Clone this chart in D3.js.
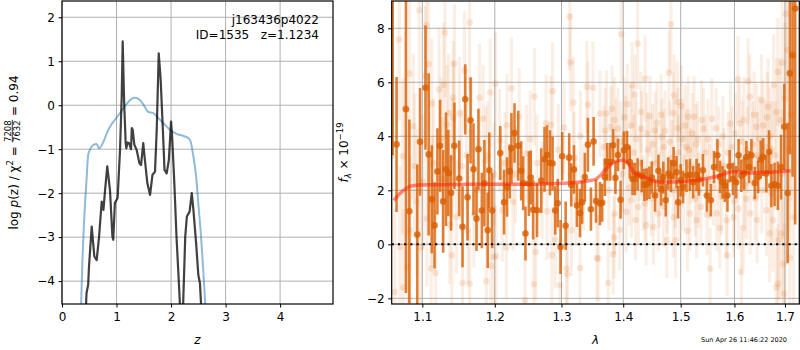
<!DOCTYPE html>
<html><head><meta charset="utf-8">
<script src="https://cdn.jsdelivr.net/npm/d3@7"></script>
<style>
body{margin:0;background:#fff}
svg{font-family:"DejaVu Sans",sans-serif}
text,tspan{white-space:pre}
</style></head>
<body><svg id="c" width="800" height="350"></svg>
<script>
// ---------------- DATA ----------------
const leftXTicks=[0,1,2,3,4];
const leftYTicks=[-4,-3,-2,-1,0,1,2];
const rightXTicks=[1.1,1.2,1.3,1.4,1.5,1.6,1.7];
const rightYTicks=[-2,0,2,4,6,8];

// blue curve: [z, log p]
const pzBlue=[[0.34,-5.0],[0.35,-4.55],[0.373,-3.6],[0.41,-2.53],[0.45,-1.70],[0.48,-1.13],[0.51,-1.02],[0.575,-0.9],[0.636,-0.88],[0.68,-0.98],[0.76,-0.83],[0.82,-0.64],[0.88,-0.49],[0.97,-0.33],[1.064,-0.18],[1.156,-0.02],[1.25,0.12],[1.33,0.17],[1.41,0.14],[1.49,0.02],[1.58,-0.15],[1.675,-0.18],[1.77,-0.3],[1.86,-0.41],[1.98,-0.56],[2.10,-0.65],[2.23,-0.70],[2.32,-0.75],[2.36,-0.83],[2.41,-1.17],[2.46,-1.62],[2.50,-2.23],[2.55,-2.99],[2.59,-3.74],[2.63,-4.6],[2.65,-5.0]];
// black curve: [z, log p]
const pzBlack=[[0.43,-5.0],[0.44,-4.55],[0.45,-4.27],[0.48,-4.08],[0.495,-3.67],[0.545,-2.76],[0.593,-3.44],[0.636,-3.52],[0.68,-2.99],[0.728,-2.19],[0.76,-2.38],[0.79,-1.93],[0.83,-1.39],[0.88,-1.93],[0.925,-2.99],[0.94,-3.06],[0.97,-2.22],[1.02,-2.11],[1.064,-1.02],[1.095,0.2],[1.113,1.45],[1.14,0.05],[1.168,-0.86],[1.18,-0.98],[1.2,-0.85],[1.23,-0.86],[1.266,-1.0],[1.28,-0.52],[1.297,-0.56],[1.327,-0.9],[1.37,-1.02],[1.42,-1.32],[1.45,-1.36],[1.49,-0.86],[1.52,-1.24],[1.565,-1.77],[1.615,-2.04],[1.66,-1.58],[1.706,-1.51],[1.737,-0.56],[1.774,1.18],[1.81,0.57],[1.85,-0.56],[1.88,-1.47],[1.92,-1.55],[1.96,-1.24],[2.0,-0.37],[2.02,-0.71],[2.06,-1.77],[2.10,-2.99],[2.15,-4.2],[2.18,-5.0],[2.21,-5.0],[2.26,-2.99],[2.29,-2.53],[2.34,-2.42],[2.38,-2.0],[2.41,-2.38],[2.46,-3.14],[2.50,-3.86],[2.53,-4.05],[2.57,-5.0]];

// binned spectrum: [lambda, flux, err]
const darkPts=[[1.0615,10.5,7.2],[1.0665,3.70,2.5],[1.0786,5.00,6.8],[1.0830,1.22,3.4],[1.0934,0.36,2.6],[1.0970,3.80,2.0],[1.1042,5.80,2.3],[1.1084,3.33,3.0],[1.1126,1.67,2.0],[1.1163,0.70,1.6],[1.1201,2.70,1.6],[1.1237,3.65,1.7],[1.1279,1.59,1.9],[1.1317,2.78,2.1],[1.1349,2.64,1.6],[1.1386,1.90,1.4],[1.1432,3.65,1.6],[1.1498,2.44,1.4],[1.1544,0.65,1.5],[1.1582,5.37,1.3],[1.1614,1.74,1.6],[1.1656,4.59,1.6],[1.1697,2.78,1.7],[1.1739,0.95,1.2],[1.1767,3.52,1.5],[1.1815,1.25,1.4],[1.1851,2.26,1.6],[1.1898,0.52,1.4],[1.1921,2.74,1.4],[1.1962,1.25,1.4],
[1.2079,3.38,1.0],[1.2134,1.56,1.2],[1.2178,2.12,1.1],[1.2218,2.70,1.0],[1.2242,3.56,1.3],[1.2287,4.12,1.1],[1.2342,3.65,1.3],[1.2386,2.72,1.1],[1.2416,2.26,1.0],[1.2450,0.40,1.0],[1.2501,2.25,1.2],[1.2530,2.47,1.0],[1.2565,1.28,1.1],[1.2624,1.26,1.0],[1.2688,2.36,1.2],[1.2738,3.15,1.2],[1.2777,3.31,1.1],[1.2822,3.02,1.2],[1.2862,2.99,1.0],[1.2902,1.25,0.9],[1.2941,1.52,0.9],[1.2985,-0.10,1.0],[1.3011,3.26,0.9],[1.3065,0.69,0.9],[1.3121,3.21,0.9],[1.3153,2.20,0.8],[1.3196,2.77,0.9],[1.3244,1.44,0.8],[1.3293,1.16,0.9],[1.3326,1.56,0.8],[1.3370,2.49,0.9],[1.3419,3.69,1.0],[1.3468,1.30,0.8],[1.3511,3.81,0.9],[1.3550,1.60,0.8],
[1.3614,1.51,0.8],[1.3651,1.54,0.7],[1.3695,2.49,0.7],[1.3733,3.05,0.7],[1.3782,3.05,0.7],[1.3831,3.67,0.6],[1.3870,2.46,0.6],[1.3912,3.31,0.6],[1.3956,1.65,0.7],[1.4010,3.48,0.7],[1.4063,3.60,0.6],[1.4110,3.05,0.6],[1.4157,2.42,0.6],[1.4197,2.42,0.6],[1.4244,2.59,0.6],[1.4314,2.53,0.6],[1.4360,2.20,0.6],[1.4401,2.22,0.6],[1.4447,2.28,0.6],[1.4489,2.47,0.6],[1.4546,1.81,0.6],[1.4604,2.72,0.6],[1.4651,2.04,0.6],[1.4691,2.47,0.6],[1.4733,1.63,0.6],[1.4778,2.62,0.6],[1.4825,2.53,0.6],[1.4873,3.00,0.6],[1.4925,2.67,0.6],[1.4953,1.56,0.6],[1.5000,2.37,0.6],[1.5042,2.12,0.6],[1.5105,2.54,0.6],[1.5166,2.57,0.6],[1.5226,2.30,0.6],[1.5289,2.57,0.6],[1.5331,2.40,0.6],
[1.5405,2.74,0.6],[1.5479,1.81,0.6],[1.5552,1.63,0.6],[1.5613,2.86,0.6],[1.5676,3.30,0.6],[1.5724,2.49,0.6],[1.5773,2.30,0.6],[1.5816,2.17,0.6],[1.5866,1.81,0.6],[1.5908,2.89,0.6],[1.5971,2.42,0.6],[1.6034,2.30,0.6],[1.6079,3.30,0.6],[1.6132,2.54,0.6],[1.6185,2.62,0.6],[1.6231,3.23,0.6],[1.6284,2.86,0.6],[1.6329,3.30,0.6],[1.6394,2.27,0.6],[1.6461,2.49,0.6],[1.6513,3.14,0.7],[1.6560,3.23,0.7],[1.6625,2.62,0.7],[1.6678,3.42,0.8],[1.6724,2.17,0.8],[1.6789,2.22,0.8],[1.6856,2.17,0.9],[1.6921,2.86,1.2],[1.6986,4.35,1.6],[1.7054,1.90,2.6],[1.7101,6.33,3.0],[1.7156,7.00,4.5],[1.7209,8.73,8.0]];

// individual exposures (faint): [lambda, flux, err]
const lightPts=[[1.0961,8.67,2.8],[1.1052,8.11,2.6],[1.1303,7.84,2.4],[1.1642,8.21,2.5],[1.0699,7.58,3.0],[1.1432,6.69,2.2],[1.1042,6.22,2.6],[1.1084,6.67,2.5],[1.0830,6.32,2.8],[1.1572,6.44,2.2],[1.1223,5.73,2.3],[1.1285,5.91,2.3],[1.1934,5.62,2.0],[1.1418,5.43,2.1],[1.1781,5.43,2.0],[1.1833,4.65,2.0],[1.1126,5.21,2.4],[1.0778,5.06,2.8],[1.0882,4.37,2.7],[1.1354,4.86,2.2],[1.1414,4.69,2.1],[1.1502,4.84,2.1],[1.1331,4.44,2.2],[1.0604,3.26,3.2],[1.0744,3.26,2.9],[1.1665,4.16,2.0],[1.1247,3.90,2.3],[1.1898,3.30,2.0],[1.1131,1.57,2.4],[1.0928,1.57,2.7],[1.1061,0.95,2.5],[1.1368,0.73,2.2],[1.1460,1.01,2.1],[1.1619,0.52,2.0],[1.1703,1.14,2.0],[1.0839,0.52,2.8],[1.0979,-0.12,2.6],[1.0708,-0.10,3.0],[1.0804,-0.84,2.8],[1.1396,-0.41,2.1],[1.1117,-0.90,2.4],[1.1177,-1.06,2.3],[1.1544,-1.43,2.1],[1.1642,-1.46,2.0],[1.1879,-1.37,2.0],[1.1944,-0.80,1.9],[1.1982,-0.47,1.9],[1.0643,-1.77,3.1],[1.0752,-1.60,2.9],[1.0900,2.90,2.7],[1.1010,2.30,2.5],[1.1150,3.00,2.4],[1.1270,2.40,2.3],[1.1400,3.20,2.2],[1.1530,2.90,2.1],[1.1600,3.30,2.0],[1.1750,2.00,2.0],[1.1870,3.10,2.0],[1.1990,2.60,1.9],
[1.3130,8.44,2.0],[1.3140,6.73,1.8],[1.2584,5.47,1.8],[1.2862,5.67,1.8],[1.3186,5.25,1.7],[1.2242,5.77,1.9],[1.2010,5.95,1.9],[1.3402,5.83,1.7],[1.3500,5.80,1.7],[1.3420,5.17,1.6],[1.2357,4.72,1.8],[1.2178,4.41,1.9],[1.2837,4.43,1.8],[1.2762,4.49,1.8],[1.3039,4.32,1.7],[1.3300,4.00,1.7],[1.2070,3.85,1.9],[1.2624,3.01,1.8],[1.2465,3.36,1.8],[1.2267,1.57,1.8],[1.2108,1.26,1.9],[1.2777,1.22,1.8],[1.3228,1.63,1.7],[1.2902,0.17,1.8],[1.3158,0.52,1.7],[1.2168,-0.12,1.9],[1.2019,-0.44,1.9],[1.2604,-0.28,1.8],[1.2850,-0.41,1.8],[1.3077,-0.90,1.7],[1.3293,-0.88,1.7],[1.3565,-0.51,1.6],[1.2575,-1.48,1.8],[1.2976,-1.52,1.7],[1.2442,-2.07,1.8],[1.3093,-1.11,1.7],[1.2300,2.60,1.8],[1.2520,3.90,1.8],[1.2700,2.00,1.8],[1.2950,3.50,1.7],[1.3200,3.20,1.7],[1.3350,2.10,1.6],[1.2150,3.00,1.9],
[1.3967,7.78,1.8],[1.4244,7.43,1.7],[1.4825,8.15,1.8],[1.4790,6.35,1.6],[1.4372,6.14,1.6],[1.4150,5.89,1.6],[1.4197,5.54,1.5],[1.4883,5.52,1.5],[1.4942,5.27,1.5],[1.5013,5.12,1.5],[1.3614,4.84,1.6],[1.3723,4.84,1.6],[1.3814,5.02,1.6],[1.4070,5.19,1.5],[1.4459,4.74,1.5],[1.5134,4.72,1.5],[1.5243,4.72,1.5],[1.4866,4.86,1.5],[1.3912,4.28,1.5],[1.3793,4.35,1.5],[1.4546,4.22,1.4],[1.4663,3.98,1.4],[1.4314,4.28,1.4],[1.3858,1.14,1.5],[1.3940,0.54,1.5],[1.4517,0.64,1.4],[1.4751,0.15,1.4],[1.4908,0.15,1.4],[1.3847,0.25,1.5],[1.3586,-0.53,1.6],[1.3831,-0.37,1.5],[1.3750,-1.43,1.6],[1.4255,1.38,1.4],[1.4139,1.63,1.4],[1.4983,1.51,1.4],[1.5166,1.14,1.4],[1.5289,0.89,1.4],[1.4604,1.14,1.4],[1.4372,1.51,1.4],[1.3680,3.60,1.5],[1.3760,2.00,1.5],[1.3880,3.90,1.5],[1.3990,2.60,1.4],[1.4040,4.10,1.4],[1.4100,2.10,1.4],[1.4180,3.40,1.4],[1.4280,3.00,1.4],[1.4340,1.90,1.4],[1.4420,3.50,1.4],[1.4480,1.70,1.4],[1.4560,3.00,1.4],[1.4620,2.00,1.4],[1.4700,3.60,1.4],[1.4760,1.80,1.4],[1.4840,3.20,1.4],[1.4900,2.00,1.4],[1.4960,3.40,1.4],[1.5050,1.90,1.4],[1.5100,3.60,1.4],[1.5180,2.90,1.4],[1.5260,1.70,1.4],
[1.3700,4.20,1.6],[1.3850,4.60,1.6],[1.3960,3.80,1.5],[1.4020,4.70,1.5],[1.4130,4.40,1.5],[1.4220,3.90,1.5],[1.4300,4.90,1.5],[1.4400,4.10,1.5],[1.4500,3.70,1.5],[1.4580,4.50,1.5],[1.4650,4.80,1.5],[1.4720,4.20,1.5],[1.4800,3.80,1.5],[1.4950,4.30,1.5],[1.5030,3.90,1.5],[1.5080,4.40,1.5],[1.5150,3.50,1.5],[1.5210,4.10,1.5],[1.5280,3.70,1.5],[1.4050,1.20,1.5],[1.4210,0.90,1.5],[1.4390,0.70,1.5],[1.4690,1.40,1.5],[1.4870,1.00,1.5],[1.5120,0.50,1.5],
[1.6067,6.11,1.6],[1.6264,6.04,1.6],[1.6856,6.38,2.0],[1.7055,7.19,3.0],[1.7020,8.54,3.0],[1.6769,5.89,1.9],[1.6941,6.72,2.4],[1.6659,5.09,1.8],[1.6527,5.33,1.7],[1.6296,5.46,1.6],[1.5418,4.28,1.5],[1.5571,4.65,1.5],[1.5921,4.47,1.5],[1.6099,4.47,1.5],[1.6428,4.35,1.6],[1.5307,3.91,1.4],[1.5663,1.14,1.4],[1.5368,1.38,1.4],[1.5847,0.89,1.4],[1.6075,1.32,1.5],[1.6305,1.14,1.5],[1.6625,1.26,1.7],[1.6757,0.89,1.9],[1.6856,-1.46,2.2],[1.6823,-1.60,2.2],[1.6986,-1.83,2.6],[1.5540,-0.90,1.5],[1.5860,-0.41,1.5],[1.6132,-1.02,1.5],[1.6870,0.15,2.2],[1.6921,0.40,2.4],[1.6967,-0.72,2.5],[1.5529,2.31,1.4],[1.5326,2.00,1.4],[1.5755,1.75,1.4],[1.6231,1.69,1.5],[1.6535,2.00,1.6],[1.6724,1.88,1.8],[1.5450,3.40,1.4],[1.5600,2.10,1.4],[1.5700,3.70,1.4],[1.5800,2.90,1.4],[1.5950,3.60,1.5],[1.6000,1.60,1.5],[1.6150,3.80,1.5],[1.6200,2.20,1.5],[1.6350,3.70,1.6],[1.6400,1.70,1.6],[1.6480,3.90,1.6],[1.6600,3.60,1.7],[1.6700,4.00,1.8],[1.6800,3.30,2.0],[1.6900,4.60,2.3],[1.6950,2.60,2.4],[1.7000,5.40,2.8],[1.7080,3.50,3.0],[1.7120,4.80,3.2],[1.7180,1.00,3.5],[1.7100,-0.50,3.2],
[1.5380,4.60,1.5],[1.5500,3.90,1.5],[1.5650,4.30,1.5],[1.5780,4.00,1.5],[1.5880,3.40,1.5],[1.6020,4.10,1.5],[1.6180,4.60,1.6],[1.6250,3.50,1.6],[1.6380,4.80,1.6],[1.6450,3.30,1.6],[1.6560,4.40,1.7],[1.6640,4.70,1.7],[1.6730,3.50,1.8],[1.6830,4.90,2.0],[1.5480,1.10,1.5],[1.5720,0.60,1.5],[1.5980,1.00,1.5],[1.6170,0.60,1.5],[1.6440,0.90,1.6],[1.6690,0.40,1.8]];

// model: [lambda, flux]
const modelPts=[[1.0630,1.63],[1.0708,1.88],[1.0780,2.05],[1.0839,2.15],[1.0950,2.20],[1.1200,2.21],[1.1600,2.22],[1.2000,2.22],[1.2400,2.22],[1.2800,2.24],[1.3100,2.27],[1.3300,2.31],[1.3450,2.36],[1.3533,2.40],[1.3620,2.55],[1.3695,2.74],[1.3780,2.93],[1.3858,3.05],[1.3994,3.11],[1.4081,2.99],[1.4197,2.62],[1.4372,2.49],[1.4546,2.33],[1.4837,2.31],[1.5050,2.33],[1.5258,2.37],[1.5450,2.43],[1.5663,2.52],[1.5830,2.62],[1.5971,2.70],[1.6296,2.64],[1.6500,2.66],[1.6769,2.68],[1.7122,2.72]];

// ---------------- DRAW ----------------
const svg=d3.select('#c');
const FS=12;
const gridCol='#b0b0b0';

const L={x0:62,x1:333,y0:1,y1:304};
const xL=d3.scaleLinear([0,4.97],[L.x0,L.x1]);
const yL=d3.scaleLinear([-4.52,2.37],[L.y1,L.y0]);
const R={x0:391.7,x1:799.3,y0:1,y1:304};
const xR=d3.scaleLog([1.0603,1.7295],[R.x0,R.x1]);
const yR=d3.scaleLinear([-2.21,9.01],[R.y1,R.y0]);

const defs=svg.append('defs');
defs.append('clipPath').attr('id','clipL').append('rect').attr('x',L.x0).attr('y',L.y0).attr('width',L.x1-L.x0).attr('height',L.y1-L.y0);
defs.append('clipPath').attr('id','clipR').append('rect').attr('x',R.x0).attr('y',R.y0).attr('width',R.x1-R.x0).attr('height',R.y1-R.y0);

function grid(P,xs,ys,xt,yt){
  const g=svg.append('g').attr('stroke',gridCol).attr('stroke-width',1);
  xt.forEach(v=>g.append('line').attr('x1',xs(v)).attr('x2',xs(v)).attr('y1',P.y0).attr('y2',P.y1));
  yt.forEach(v=>g.append('line').attr('x1',P.x0).attr('x2',P.x1).attr('y1',ys(v)).attr('y2',ys(v)));
}
grid(L,xL,yL,leftXTicks,leftYTicks);
grid(R,xR,yR,rightXTicks,rightYTicks);

const gLc=svg.append('g').attr('clip-path','url(#clipL)');
gLc.append('path').datum(pzBlue)
  .attr('d',d3.line().x(d=>xL(d[0])).y(d=>yL(d[1])).curve(d3.curveMonotoneX))
  .attr('fill','none').attr('stroke','#1f77b4').attr('stroke-opacity',0.5).attr('stroke-width',2);
gLc.append('path').datum(pzBlack)
  .attr('d',d3.line().x(d=>xL(d[0])).y(d=>yL(d[1])))
  .attr('fill','none').attr('stroke','#000').attr('stroke-opacity',0.75).attr('stroke-width',2.2)
  .attr('stroke-linejoin','round');

const gR=svg.append('g').attr('clip-path','url(#clipR)');
const oc='#d95f02';
gR.append('g').selectAll('line').data(lightPts).join('line')
  .attr('x1',d=>xR(d[0])).attr('x2',d=>xR(d[0]))
  .attr('y1',d=>yR(d[1]-d[2])).attr('y2',d=>yR(d[1]+d[2]))
  .attr('stroke',oc).attr('stroke-opacity',0.1).attr('stroke-width',3.2);
gR.append('g').selectAll('circle').data(lightPts).join('circle')
  .attr('cx',d=>xR(d[0])).attr('cy',d=>yR(d[1])).attr('r',3.3)
  .attr('fill',oc).attr('fill-opacity',0.14);
gR.append('g').selectAll('line').data(darkPts).join('line')
  .attr('x1',d=>xR(d[0])).attr('x2',d=>xR(d[0]))
  .attr('y1',d=>yR(d[1]-d[2])).attr('y2',d=>yR(d[1]+d[2]))
  .attr('stroke',oc).attr('stroke-opacity',0.8).attr('stroke-width',2.6);
gR.append('g').selectAll('circle').data(darkPts).join('circle')
  .attr('cx',d=>xR(d[0])).attr('cy',d=>yR(d[1])).attr('r',3.3)
  .attr('fill',oc).attr('fill-opacity',0.8);
gR.append('path').datum(modelPts)
  .attr('d',d3.line().x(d=>xR(d[0])).y(d=>yR(d[1])).curve(d3.curveMonotoneX))
  .attr('fill','none').attr('stroke','#ff1a00').attr('stroke-opacity',0.5).attr('stroke-width',3.5);
gR.append('line').attr('x1',R.x0).attr('x2',R.x1).attr('y1',yR(0)).attr('y2',yR(0))
  .attr('stroke','#000').attr('stroke-width',2).attr('stroke-dasharray','2.2,4');

function styleAxis(g){
  g.select('.domain').remove();
  g.selectAll('text').attr('font-size',FS).attr('font-family','"DejaVu Sans",sans-serif').attr('fill','#000');
  g.selectAll('line').attr('stroke','#000');
}
svg.append('g').attr('transform',`translate(0,${L.y1})`)
  .call(d3.axisBottom(xL).tickValues(leftXTicks).tickSize(3.5).tickPadding(5).tickFormat(d3.format('d'))).call(styleAxis);
svg.append('g').attr('transform',`translate(${L.x0},0)`)
  .call(d3.axisLeft(yL).tickValues(leftYTicks).tickSize(3.5).tickPadding(3.5).tickFormat(d3.format('d'))).call(styleAxis);
svg.append('g').attr('transform',`translate(0,${R.y1})`)
  .call(d3.axisBottom(xR).tickValues(rightXTicks).tickSize(3.5).tickPadding(5).tickFormat(d3.format('.1f'))).call(styleAxis);
svg.append('g').attr('transform',`translate(${R.x0},0)`)
  .call(d3.axisLeft(yR).tickValues(rightYTicks).tickSize(3.5).tickPadding(3.5).tickFormat(d3.format('d'))).call(styleAxis);

[L,R].forEach(P=>svg.append('rect').attr('x',P.x0).attr('y',P.y0).attr('width',P.x1-P.x0).attr('height',P.y1-P.y0)
  .attr('fill','none').attr('stroke','#000').attr('stroke-width',1.2));

svg.append('text').attr('x',(L.x0+L.x1)/2).attr('y',344).attr('text-anchor','middle')
  .attr('font-size',FS).attr('font-style','italic').text('z');
svg.append('text').attr('x',(R.x0+R.x1)/2).attr('y',344).attr('text-anchor','middle')
  .attr('font-size',FS).attr('font-style','italic').text('λ');

svg.append('text').attr('x',319).attr('y',24.4).attr('text-anchor','end').attr('font-size',FS).text('j163436p4022');
svg.append('text').attr('x',319).attr('y',39).attr('text-anchor','end').attr('font-size',FS).attr('xml:space','preserve').text('ID=1535   z=1.1234');

svg.append('text').attr('x',787).attr('y',341.5).attr('text-anchor','end').attr('font-size',6.5).text('Sun Apr 26 11:46:22 2020');

(function(){
  const g=svg.append('g');
  const base=5;
  const t1=g.append('text').attr('x',0).attr('y',base).attr('font-size',FS).attr('xml:space','preserve');
  t1.append('tspan').text('log ');
  t1.append('tspan').attr('font-style','italic').text('p');
  t1.append('tspan').text('(z) / χ');
  t1.append('tspan').attr('font-size',8.5).attr('dy',-5).text('2');
  const w1=t1.node().getComputedTextLength();
  const t2=g.append('text').attr('x',w1).attr('y',base).attr('font-size',FS).attr('xml:space','preserve').text(' = ');
  const w2=t2.node().getComputedTextLength();
  const nu=g.append('text').attr('y',-1.2).attr('font-size',8.5).attr('text-anchor','middle').text('7208');
  const de=g.append('text').attr('y',7.4).attr('font-size',8.5).attr('text-anchor','middle').text('7632');
  const fw=Math.max(nu.node().getComputedTextLength(),de.node().getComputedTextLength())+1;
  const fx=w1+w2;
  nu.attr('x',fx+fw/2); de.attr('x',fx+fw/2);
  g.append('line').attr('x1',fx).attr('x2',fx+fw).attr('y1',-0.2).attr('y2',-0.2).attr('stroke','#000').attr('stroke-width',0.8);
  const t3=g.append('text').attr('x',fx+fw).attr('y',base).attr('font-size',FS).attr('xml:space','preserve').text(' = 0.94');
  const tot=fx+fw+t3.node().getComputedTextLength();
  g.attr('transform',`translate(12.5,${(L.y0+L.y1)/2+tot/2}) rotate(-90)`);
})();

(function(){
  const g=svg.append('g');
  const t=g.append('text').attr('y',4.3).attr('font-size',FS).attr('xml:space','preserve');
  t.append('tspan').attr('font-style','italic').text('f');
  t.append('tspan').attr('font-size',8.5).attr('font-style','italic').attr('dy',2.5).text('λ');
  t.append('tspan').attr('dy',-2.5).text(' × 10');
  t.append('tspan').attr('font-size',8.5).attr('dy',-5).text('−19');
  const w=t.node().getComputedTextLength();
  t.attr('x',-w/2);
  g.attr('transform',`translate(344,${(R.y0+R.y1)/2}) rotate(-90)`);
})();
</script></body></html>
